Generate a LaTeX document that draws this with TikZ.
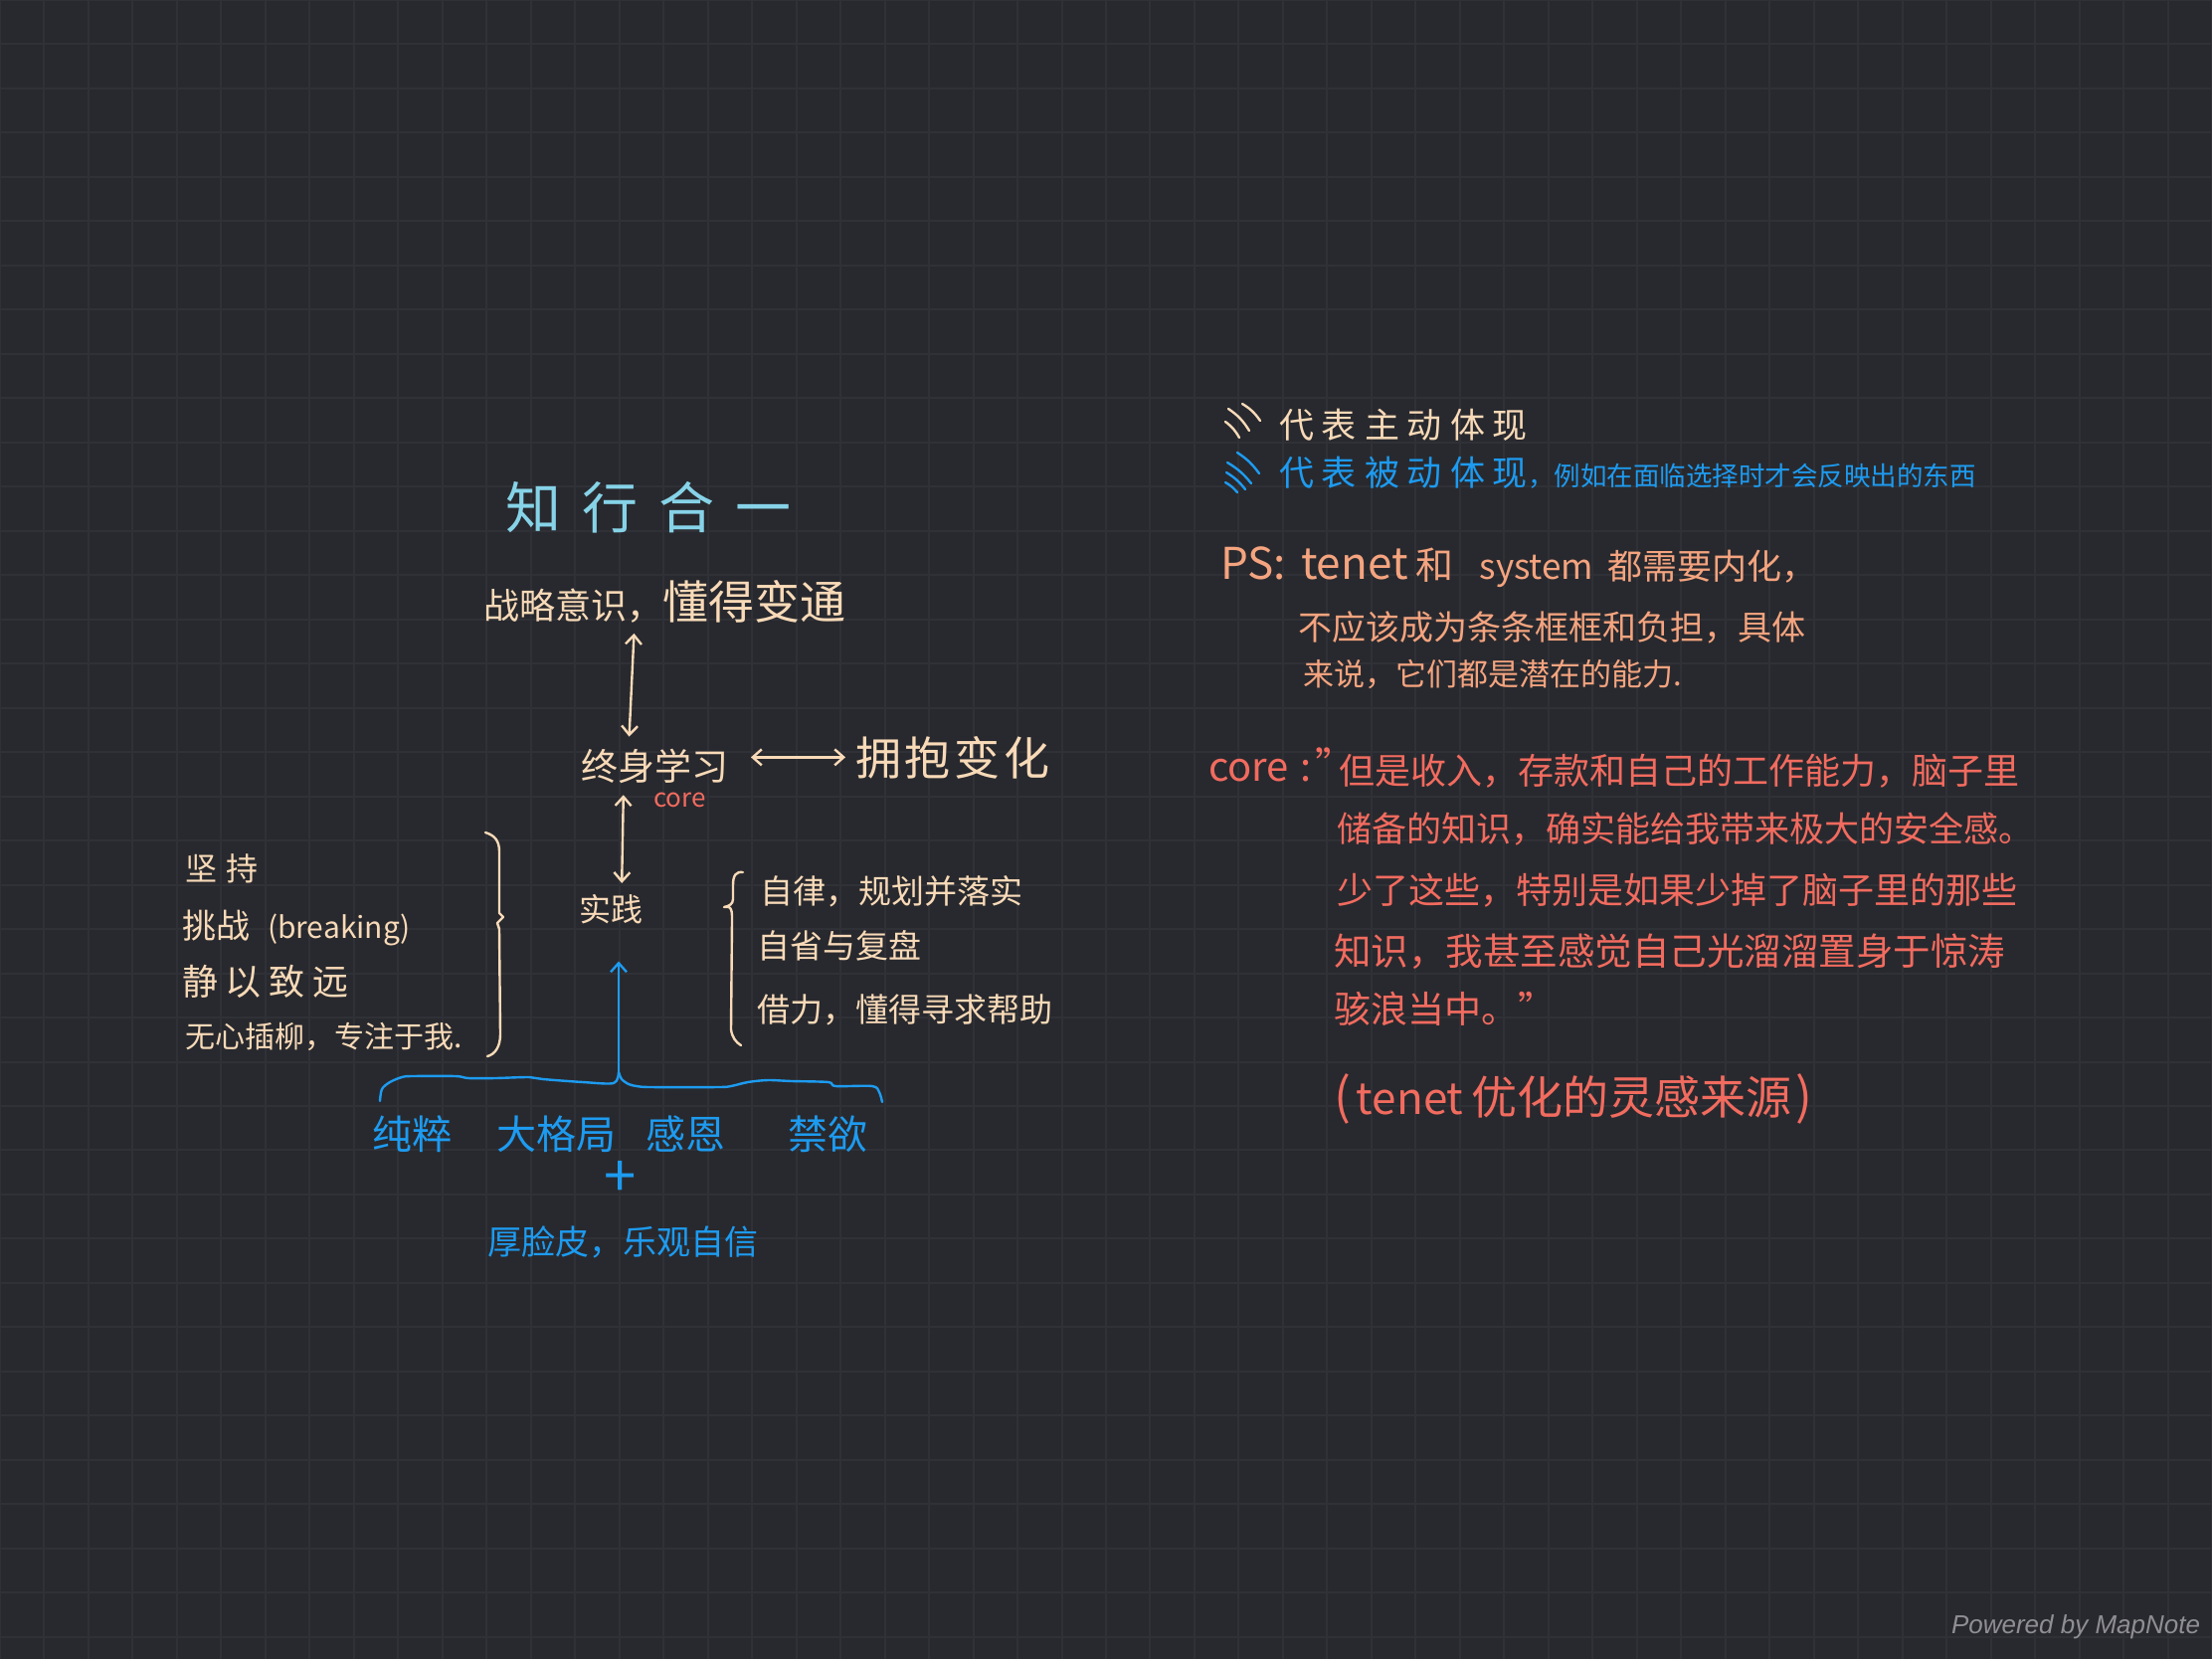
\documentclass[tikz,border=0pt]{standalone}
\usepackage{fontspec}
\setmainfont{Noto Sans CJK SC}
\newfontfamily\mapfont{Liberation Sans}
\usetikzlibrary{arrows.meta}
\newcommand\myfs[1]{\fontsize{#1}{#1}\selectfont}
\definecolor{bgc}{HTML}{28292E}
\definecolor{gridc}{HTML}{303137}
\definecolor{cream}{HTML}{F8DAB8}
\definecolor{skyc}{HTML}{86D3E8}
\definecolor{bluec}{HTML}{1D9BF0}
\definecolor{orangec}{HTML}{F4A47F}
\definecolor{redc}{HTML}{F26B5F}
\definecolor{grayc}{HTML}{8E8E93}
\begin{document}
\begin{tikzpicture}[x=1pt,y=-1pt,
  txt/.style={anchor=base west,inner sep=0pt,outer sep=0pt},
  pen/.style={line width=2.4pt,line cap=round,line join=round},
  dbl/.style={pen,draw=cream,{Straight Barb[length=9pt,width=16pt]}-{Straight Barb[length=9pt,width=16pt]}},
  uparrow/.style={pen,draw=bluec,-{Straight Barb[length=9pt,width=16pt]}}]
\useasboundingbox (0,0) rectangle (2224,1668);
\fill[bgc] (0,0) rectangle (2224,1668);
\foreach \i in {0,...,50}{\draw[gridc,line width=2pt] (\i*44.48,0) -- (\i*44.48,1668);}
\foreach \j in {0,...,37}{\draw[gridc,line width=2pt] (0,\j*44.48) -- (2224,\j*44.48);}

% ---------- left mind map ----------
\node[txt,font=\myfs{56},text=skyc] (title) at (508,531) {知\hspace{21pt}行\hspace{21pt}合\hspace{21pt}一};
\node[txt,font=\myfs{36},text=cream] (strategy) at (486,622) {战略意识，{\myfs{46}懂得变通}};
\node[txt,font=\myfs{37},text=cream] (lifelong) at (584,784) {终身学习};
\node[txt,font=\myfs{46},text=cream] (change) at (860,779) {拥\hspace{4pt}抱\hspace{4pt}变\hspace{4pt}化};
\node[txt,font=\myfs{26},text=redc] (core) at (657,811) {core};
\node[txt,font=\myfs{32},text=cream] (practice) at (582,926) {实践};

\draw[dbl,shorten <=11pt,shorten >=12pt] ([xshift=-30pt]strategy.south) -- ([xshift=-26pt]lifelong.north);
\draw[dbl,shorten <=23pt,shorten >=10pt] (lifelong.east |- change.west) -- (change.west);
\draw[dbl,shorten <=12pt,shorten >=11pt] ([xshift=-31pt]lifelong.south) -- ([xshift=11pt]practice.north);

% left list
\node[txt,font=\myfs{32},text=cream] (persist) at (186,885) {坚\hspace{10pt}持};
\node[txt,font=\myfs{34},text=cream] (challenge) at (183,943) {挑战\hspace{18pt}{\myfs{30}(breaking)}};
\node[txt,font=\myfs{36},text=cream] (calm) at (183,1000) {静\hspace{8pt}以\hspace{8pt}致\hspace{8pt}远};
\node[txt,font=\myfs{30},text=cream] (focus) at (186,1053) {无心插柳，专注于我.};
\draw[pen,cream] (488,837) .. controls (498,840) and (502,846) .. (502,856) -- (502,918) -- (506,922) -- (500,928) -- (502,934) -- (503,1040) .. controls (503,1052) and (498,1060) .. (490,1062);

% right list
\node[txt,font=\myfs{33},text=cream] (discipline) at (764,908) {自律，规划并落实};
\node[txt,font=\myfs{33},text=cream] (review) at (761,963) {自省与复盘};
\node[txt,font=\myfs{33},text=cream] (help) at (761,1027) {借力，懂得寻求帮助};
\draw[pen,cream] (747,877) .. controls (740,876) and (737,880) .. (737,890) -- (737,904) .. controls (737,909) and (733,911) .. (728,912) -- (733,912) .. controls (736,914) and (736,918) .. (736,925) -- (735,1035) .. controls (736,1043) and (740,1048) .. (745,1051);

% blue foundation
\coordinate (tip) at (622,1078);
\draw[pen,bluec] plot[smooth,tension=0.5] coordinates {(382,1107) (384,1095) (392,1088) (404,1083) (414,1082) (458,1082) (471,1084) (498,1084) (532,1083) (546,1085) (586,1088) (617,1089) (622,1078)};
\draw[pen,bluec] plot[smooth,tension=0.5] coordinates {(622,1078) (625,1085) (632,1090) (640,1092) (654,1093) (722,1093) (735,1092) (752,1088) (772,1086) (796,1087) (833,1088) (840,1092) (877,1092) (884,1098) (887,1108)};
\draw[uparrow,shorten >=38pt] (tip) -- (practice.south -| tip);
\node[txt,font=\myfs{40},text=bluec] (virtues) at (374,1155) {纯粹\hspace{45pt}大格局\hspace{30pt}感恩\hspace{63pt}禁欲};
\node[font=\myfs{58},text=bluec,inner sep=0pt] (plus) at (624,1185) {+};
\node[txt,font=\myfs{34},text=bluec] (thick) at (490,1261) {厚脸皮，乐观自信};

% ---------- legend ----------
\draw[pen,cream] (1232,424) to[bend left=12] (1246,440);
\draw[pen,cream] (1235,411) to[bend left=12] (1256,433);
\draw[pen,cream] (1249,406) to[bend left=12] (1267,423);
\node[txt,font=\myfs{35},text=cream] (active) at (1286,440) {代\hspace{8pt}表\hspace{8pt}主\hspace{8pt}动\hspace{8pt}体\hspace{8pt}现};
\draw[pen,bluec] (1232,485) to[bend left=10] (1244,495);
\draw[pen,bluec] (1233,475) to[bend left=10] (1252,492);
\draw[pen,bluec] (1234,465) to[bend left=10] (1258,486);
\draw[pen,bluec] (1244,455) to[bend left=10] (1266,476);
\node[txt,font=\myfs{35},text=bluec] (passive) at (1286,488) {代\hspace{8pt}表\hspace{8pt}被\hspace{8pt}动\hspace{8pt}体\hspace{8pt}现{\myfs{26.5}，例如在面临选择时才会反映出的东西}};

% ---------- PS ----------
\node[txt,font=\myfs{44},text=orangec] (ps) at (1227,582) {PS:};
\node[txt,font=\myfs{44},text=orangec] (ps1) at (1308,582) {tenet\hspace{8pt}{\myfs{38}和}\hspace{26pt}{\myfs{35}system}\hspace{14pt}{\myfs{35}都需要内化，}};
\node[txt,font=\myfs{34},text=orangec] (ps2) at (1305,643) {不应该成为条条框框和负担，具体};
\node[txt,font=\myfs{31},text=orangec] (ps3) at (1310,689) {来说，它们都是潜在的能力.};

% ---------- core quote ----------
\node[txt,font=\myfs{40},text=redc] (corelabel) at (1215,785) {core\hspace{12pt}:\hspace{3pt}"};
\node[txt,font=\myfs{36},text=redc] (q1) at (1346,788) {但是收入，存款和自己的工作能力，脑子里};
\node[txt,font=\myfs{35},text=redc] (q2) at (1344,846) {储备的知识，确实能给我带来极大的安全感。};
\node[txt,font=\myfs{36},text=redc] (q3) at (1344,908) {少了这些，特别是如果少掉了脑子里的那些};
\node[txt,font=\myfs{37.5},text=redc] (q4) at (1341,970) {知识，我甚至感觉自己光溜溜置身于惊涛};
\node[txt,font=\myfs{37},text=redc] (q5) at (1341,1028) {骇浪当中。"};
\node[txt,font=\myfs{44},text=redc] (source) at (1341,1120) {{\myfs{50}(}\hspace{6pt}tenet\hspace{8pt}{\myfs{46}优化的灵感来源}\hspace{4pt}{\myfs{50})}};

\node[txt,font=\mapfont\itshape\myfs{26},text=grayc] (powered) at (1962,1642) {Powered by MapNote};
\end{tikzpicture}
\end{document}
